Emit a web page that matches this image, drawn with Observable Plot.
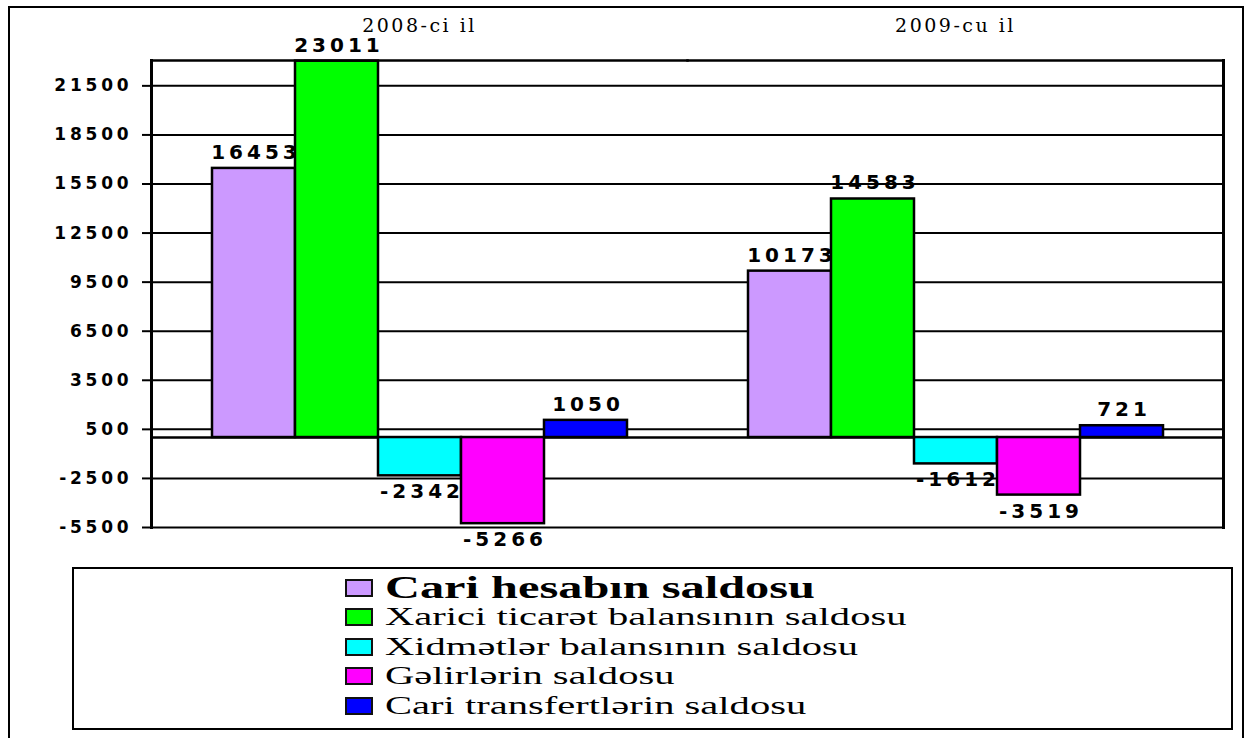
<!DOCTYPE html>
<html><head><meta charset="utf-8">
<script src="https://cdn.jsdelivr.net/npm/d3@7"></script>
<script src="https://cdn.jsdelivr.net/npm/@observablehq/plot@0.6"></script>
<style>
  html, body { margin: 0; padding: 0; background: #fff; }
  body { width: 1249px; height: 738px; position: relative; overflow: hidden; }
  #outer { position: absolute; left: 8px; top: 6px; width: 1236px; height: 760px; border: 2px solid #000; box-sizing: border-box; }
  #chart { position: absolute; left: 0; top: 0; }
  #legend { position: absolute; left: 72px; top: 567px; width: 1161px; height: 163px; border: 2px solid #000; box-sizing: border-box; padding: 4px 0 0 271px; background: #fff; }
  .row { height: 29.5px; display: flex; align-items: center; font-family: "Liberation Serif", "Times New Roman", serif; font-size: 26px; color: #000; white-space: nowrap; }
  .row.first { font-size: 31px; font-weight: bold; }
  .row .lbl { display: inline-block; transform: scaleX(1.56); transform-origin: 0 50%; }
  .sw { display: inline-block; width: 28px; height: 18px; border: 2px solid #111; box-sizing: border-box; margin-right: 12px; flex: none; }
  svg [aria-label="y-axis tick label"] text { letter-spacing: 3.8px; }
  svg [aria-label="fx-axis tick label"] text { letter-spacing: 2.5px; }
  svg [aria-label="text"] text { letter-spacing: 4px; }
</style>
</head><body>
<div id="outer"></div>
<div id="chart"></div>
<div id="legend"></div>
<script>
const years = ["2008-ci il", "2009-cu il"];
const series = ["Cari hesabın saldosu", "Xarici ticarət balansının saldosu", "Xidmətlər balansının saldosu", "Gəlirlərin saldosu", "Cari transfertlərin saldosu"];
const colors = ["#CC99FF", "#00FF00", "#00FFFF", "#FF00FF", "#0000FF"];
const values2008 = [16453, 23011, -2342, -5266, 1050];
const values2009 = [10173, 14583, -1612, -3519, 721];
const yTicks = [-5500, -2500, 500, 3500, 6500, 9500, 12500, 15500, 18500, 21500];
const yMin = -5500, yMax = 23050;

const data = [];
[values2008, values2009].forEach((vals, yi) => {
  vals.forEach((v, si) => data.push({year: years[yi], series: series[si], value: v}));
});

const chart = Plot.plot({
  width: 1249, height: 560,
  marginLeft: 150, marginRight: 26, marginTop: 60, marginBottom: 33,
  fx: {domain: years, padding: 0, label: null},
  x: {domain: series, paddingInner: 0, paddingOuter: 0.72, axis: null},
  y: {domain: [yMin, yMax]},
  color: {domain: series, range: colors},
  style: {background: "transparent", overflow: "visible"},
  marks: [
    Plot.ruleY(yTicks, {stroke: "#000", strokeWidth: 2}),
    Plot.ruleY([0], {stroke: "#000", strokeWidth: 2.5}),
    Plot.barY(data, {fx: "year", x: "series", y: "value", fill: "series", stroke: "#000", strokeWidth: 2.5}),
    Plot.frame({anchor: "top", stroke: "#000", strokeWidth: 2.5}),
    Plot.frame({anchor: "left", facetAnchor: "left", stroke: "#000", strokeWidth: 3}),
    Plot.frame({anchor: "right", facetAnchor: "right", stroke: "#000", strokeWidth: 3}),
    Plot.axisY({ticks: yTicks, tickSize: 9, tickPadding: 10, tickFormat: d => String(d), fontSize: 17, fontWeight: "bold", fontFamily: "DejaVu Sans", label: null, stroke: "#000", strokeWidth: 2, fill: "#000"}),
    Plot.axisFx({anchor: "top", tickSize: 0, tickPadding: 29, fontSize: 19, fontFamily: "DejaVu Serif", label: null, fill: "#000"}),
    Plot.text(data.filter(d => d.value >= 0), {fx: "year", x: "series", y: "value", text: d => String(d.value), dy: -16, dx: 2, fontSize: 20, fontWeight: "bold", fontFamily: "DejaVu Sans", fill: "#000"}),
    Plot.text(data.filter(d => d.value < 0), {fx: "year", x: "series", y: "value", text: d => String(d.value), dy: 16, dx: 2, fontSize: 20, fontWeight: "bold", fontFamily: "DejaVu Sans", fill: "#000"})
  ]
});
document.getElementById("chart").appendChild(chart);

const legend = document.getElementById("legend");
series.forEach((s, i) => {
  const row = document.createElement("div");
  row.className = "row" + (i === 0 ? " first" : "");
  const sw = document.createElement("span");
  sw.className = "sw";
  sw.style.background = colors[i];
  const t = document.createElement("span");
  t.className = "lbl";
  t.textContent = s;
  row.appendChild(sw);
  row.appendChild(t);
  legend.appendChild(row);
});
</script>
</body></html>
